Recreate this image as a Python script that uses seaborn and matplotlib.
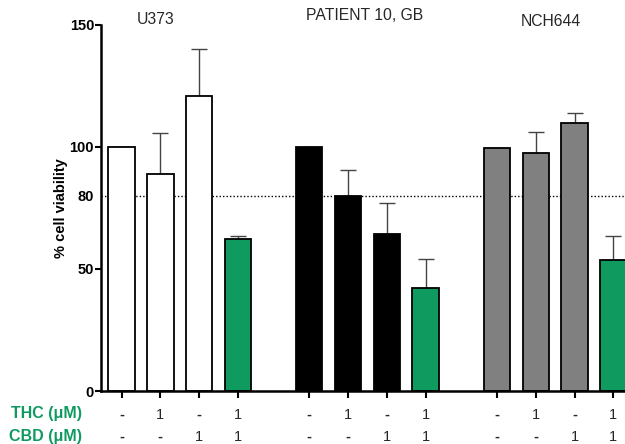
import numpy as np
import pandas as pd
import seaborn as sns
import matplotlib.pyplot as plt

# --- data ---
cell_lines = ["U373", "PATIENT 10, GB", "NCH644"]
thc_row = ["-", "1", "-", "1"]
cbd_row = ["-", "-", "1", "1"]

u373_mean = [100, 88.8, 121, 62.2]
u373_err = [0, 17, 19, 1.5]
patient_mean = [100, 80, 64.2, 42.2]
patient_err = [0, 10.6, 12.8, 12]
nch644_mean = [99.7, 97.5, 109.7, 53.8]
nch644_err = [0, 8.5, 4.3, 9.9]

fill_colors = ["white", "black", "#808080"]
combo_color = "#0f9a60"

group_step = 4.84

rows = []
for g, (name, means, errs) in enumerate(
    zip(cell_lines, [u373_mean, patient_mean, nch644_mean],
        [u373_err, patient_err, nch644_err])):
    for k in range(4):
        rows.append({
            "pos": g * group_step + k,
            "line": name,
            "fill": "combo" if k == 3 else name,
            "value": means[k],
            "err": errs[k],
        })
df = pd.DataFrame(rows)

palette = {name: c for name, c in zip(cell_lines, fill_colors)}
palette["combo"] = combo_color

# --- style ---
sns.set_theme(style="white")
plt.rcParams["font.family"] = ["Liberation Sans", "DejaVu Sans"]

fig = plt.figure(figsize=(6.25, 4.44), dpi=100)
ax = fig.add_axes([101 / 625, 1 - 391 / 444, 1 - 101 / 625, (391 - 25) / 444])

ax.axhline(80, color="black", linestyle=(0, (1, 1.5)), linewidth=1.0, zorder=0)

sns.barplot(data=df, x="pos", y="value", hue="fill", palette=palette,
            native_scale=True, dodge=False, width=0.68, legend=False,
            saturation=1, edgecolor="black", linewidth=1.3, errorbar=None,
            zorder=2, ax=ax)

ax.errorbar(df["pos"], df["value"], yerr=[np.zeros(len(df)), df["err"]],
            fmt="none", ecolor="#444444", elinewidth=1.0, capsize=6,
            capthick=1.0, zorder=1)

ax.set_xlim(-0.53, 12.98)
ax.set_ylim(0, 150)
ax.set_yticks([0, 50, 100, 150])
ax.set_yticks([80], minor=True)
ax.set_yticklabels(["0", "50", "100", "150"], fontweight="bold", fontsize=10.5)
ax.set_yticklabels(["80"], minor=True, fontweight="bold", fontsize=10.5)
ax.tick_params(axis="y", which="major", left=True, length=4, width=1.5,
               pad=1, colors="black")
ax.tick_params(axis="y", which="minor", left=True, length=0, pad=5,
               labelcolor="black")
ax.set_xticks(df["pos"])
ax.set_xticklabels([])
ax.tick_params(axis="x", bottom=True, length=5, width=1.5, colors="black")

ax.set_xlabel("")
ax.set_ylabel("% cell viability", fontweight="bold", fontsize=10.5,
              labelpad=1, color="black")

for side in ["top", "right"]:
    ax.spines[side].set_visible(False)
for side in ["left", "bottom"]:
    ax.spines[side].set_color("black")
    ax.spines[side].set_linewidth(1.8)

# treatment rows under the axis
trans = ax.get_xaxis_transform()
for g in range(len(cell_lines)):
    for k in range(4):
        x = g * group_step + k
        for label, yy in [(thc_row[k], -0.065), (cbd_row[k], -0.125)]:
            ax.text(x, yy, label, transform=trans, ha="center", va="center",
                    fontsize=10.5, clip_on=False,
                    fontweight="bold" if label == "-" else "normal")

fig.text(82 / 625, 1 - 413 / 444, "THC (\u03bcM)", color=combo_color,
         fontweight="bold", fontsize=11.5, ha="right", va="center")
fig.text(82 / 625, 1 - 436 / 444, "CBD (\u03bcM)", color=combo_color,
         fontweight="bold", fontsize=11.5, ha="right", va="center")

# cell line titles
title_xy = [(156, 20), (365, 16), (551, 22)]
for name, (px, py) in zip(cell_lines, title_xy):
    fig.text(px / 625, 1 - py / 444, name, ha="center", va="center",
             fontsize=11.3)

fig.savefig("out.png", dpi=100)
